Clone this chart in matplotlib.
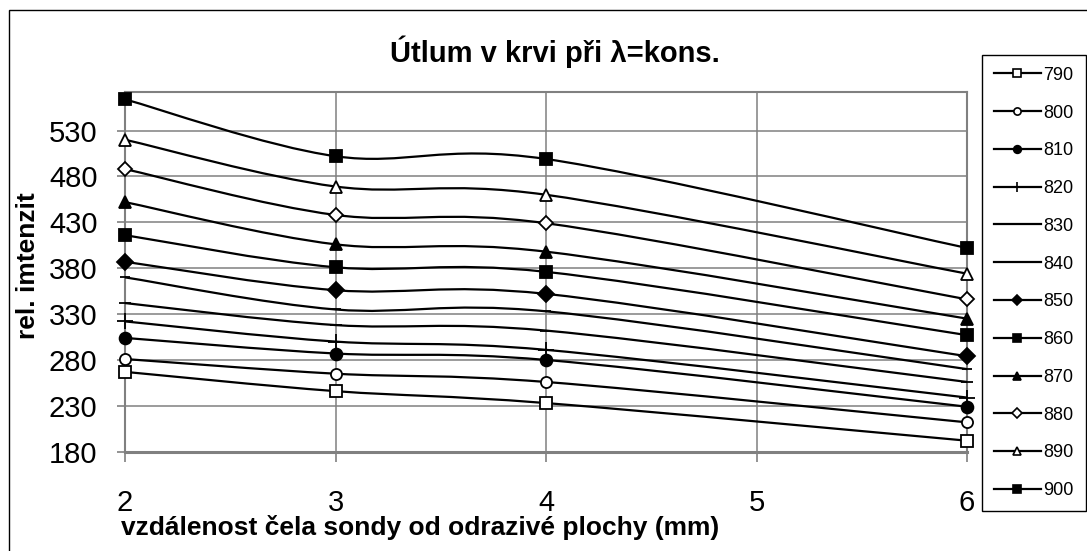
import matplotlib
matplotlib.use("Agg")
import matplotlib.pyplot as plt
from matplotlib.path import Path
from matplotlib.patches import PathPatch, Rectangle
from matplotlib.lines import Line2D

plt.rcParams['font.family'] = ['Liberation Sans', 'DejaVu Sans']

# vzdálenost (mm)
distance = [2, 3, 4, 6]

# rel. intenzita pro jednotlivé vlnové délky (nm)
wavelengths = ['790', '800', '810', '820', '830', '840',
               '850', '860', '870', '880', '890', '900']
s790 = [267, 246, 233, 192]
s800 = [281, 265, 256, 212]
s810 = [304, 287, 280, 229]
s820 = [322, 300, 291, 239]
s830 = [342, 318, 312, 256]
s840 = [370, 335, 333, 270]
s850 = [387, 356, 352, 284]
s860 = [416, 381, 376, 307]
s870 = [452, 406, 398, 325]
s880 = [488, 438, 429, 346]
s890 = [520, 469, 460, 374]
s900 = [564, 502, 499, 402]
series = [s790, s800, s810, s820, s830, s840, s850, s860, s870, s880, s890, s900]

yticks = [180, 230, 280, 330, 380, 430, 480, 530]
xticks = [2, 3, 4, 5, 6]

# marker, filled?, size
styles = [('s', False, 8), ('o', False, 8), ('o', True, 8.5), ('+', True, 11),
          ('_', True, 9), ('_', True, 7), ('D', True, 8), ('s', True, 9),
          ('^', True, 9), ('D', False, 7.5), ('^', False, 8.5), ('s', True, 9)]

W, H = 1087, 551
GRID = '#808080'


def smooth_path(xs, ys):
    # Excel-like smoothed line (cubic bezier through the points)
    pts = list(zip(xs, ys))
    n = len(pts)
    verts = [pts[0]]
    codes = [Path.MOVETO]
    for i in range(n - 1):
        p0 = pts[i - 1] if i > 0 else pts[i]
        p1 = pts[i]
        p2 = pts[i + 1]
        p3 = pts[i + 2] if i + 2 < n else pts[i + 1]
        c1 = (p1[0] + (p2[0] - p0[0]) / 6, p1[1] + (p2[1] - p0[1]) / 6)
        c2 = (p2[0] - (p3[0] - p1[0]) / 6, p2[1] - (p3[1] - p1[1]) / 6)
        verts += [c1, c2, p2]
        codes += [Path.CURVE4] * 3
    return Path(verts, codes)


fig = plt.figure(figsize=(W / 100, H / 100), dpi=100)
ax = fig.add_axes([125 / W, 1 - 451.7 / H, (967 - 125) / W, (451.7 - 92) / H])

handles = []
for vals, (mk, filled, ms) in zip(series, styles):
    ax.add_patch(PathPatch(smooth_path(distance, vals), fill=False,
                           edgecolor='black', lw=1.6, zorder=3))
    face = 'black' if filled else 'white'
    ax.plot(distance, vals, linestyle='none', marker=mk, ms=ms,
            mfc=face, mec='black', mew=1.3, zorder=4, clip_on=False)
    handles.append(Line2D([], [], color='black', lw=1.6, marker=mk, ms=ms,
                          mfc=face, mec='black', mew=1.2))

ax.set_xlim(2, 6)
ax.set_ylim(180, 572)
ax.set_xticks(xticks)
ax.set_yticks(yticks)
ax.grid(True, color=GRID, lw=1.1)
ax.set_axisbelow(True)
for sp in ax.spines.values():
    sp.set_color(GRID)
    sp.set_linewidth(1.5)
ax.spines['bottom'].set_linewidth(2.2)
ax.tick_params(axis='y', direction='out', length=5.8, width=1.2, color=GRID,
               pad=14, labelsize=21)
ax.tick_params(axis='x', direction='out', length=7, width=1.2, color=GRID,
               pad=20, labelsize=21)

fig.text(555 / W, 1 - 62 / H, 'Útlum v krvi při λ=kons.', ha='center',
         va='baseline', fontsize=21, weight='bold')
fig.text(420 / W, 1 - 528 / H, 'vzdálenost čela sondy od odrazivé plochy (mm)',
         ha='center', va='center', fontsize=19, weight='bold')
fig.text(28 / W, 1 - 266 / H, 'rel. imtenzit', rotation=90, ha='center',
         va='center', fontsize=19, weight='bold')

leg = fig.legend(handles, wavelengths, loc='upper left',
                 bbox_to_anchor=(982 / W, 1 - 55 / H),
                 bbox_transform=fig.transFigure, frameon=True, fancybox=False,
                 edgecolor='black', framealpha=1, fontsize=13,
                 handlelength=2.6, handletextpad=0.15, labelspacing=1.15,
                 borderpad=0.65, markerscale=0.65, borderaxespad=0)
leg.get_frame().set_linewidth(1)

fig.patches.append(Rectangle((8.5 / W, -0.1), 1.2, 1.1 - 10 / H,
                             transform=fig.transFigure, fill=False,
                             edgecolor='black', lw=1))

fig.savefig('out.png', dpi=100)
